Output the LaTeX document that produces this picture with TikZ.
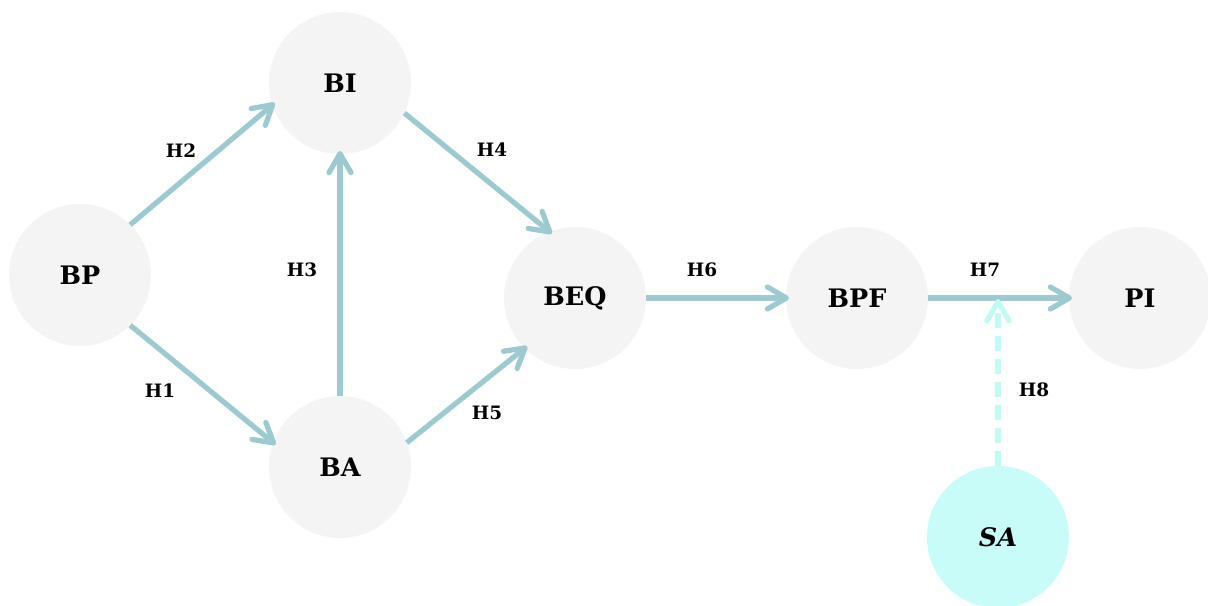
\documentclass[tikz,border=0pt]{standalone}
\usepackage{fontspec}
\setmainfont{DejaVu Serif}
\usepackage[table]{xcolor}
\usepackage{tikz}
\usetikzlibrary{arrows.meta}

\definecolor{nodegray}{HTML}{F4F4F4}
\definecolor{nodecyan}{HTML}{C7FCF8}
\definecolor{linkblue}{HTML}{9DCAD1}
\definecolor{linkcyan}{HTML}{C2FAF6}

\begin{document}
\begin{tikzpicture}[x=0.2mm, y=-0.2mm,
    construct/.style={circle, fill=nodegray, minimum size=28.4mm, inner sep=0pt, outer sep=0pt,
                      font=\fontsize{14.5}{17}\selectfont\bfseries},
    moderator/.style={construct, fill=nodecyan, font=\fontsize{14.5}{17}\selectfont\bfseries\itshape},
    path/.style={line width=1.05mm, draw=linkblue, shorten >=-0.6mm,
                 -{Straight Barb[length=3.8mm, width=4.4mm, round]}},
    modpath/.style={path, draw=linkcyan, dash pattern=on 3mm off 1.6mm},
    hyp/.style={font=\fontsize{10.5}{12}\selectfont\bfseries, inner sep=0pt}]
        \useasboundingbox  (0,0) rectangle (1208,606);

        \node [construct]  (BP)  at (80,275)   {BP};
        \node [construct]  (BI)  at (340,83)   {BI};
        \node [construct]  (BA)  at (340,467)  {BA};
        \node [construct]  (BEQ) at (575,298)  {BEQ};
        \node [construct]  (BPF) at (857,298)  {BPF};
        \node [construct]  (PI)  at (1140,298) {PI};
        \node [moderator]  (SA)  at (998,537)  {SA};
        \coordinate        (M)   at (998,302);

        \draw [path]     (BP.45)    -- (BI.198);
        \draw [path]     (BP.-45)   -- (BA.160);
        \draw [path]     (BA.north) -- (BI.south);
        \draw [path]     (BI.-25)   -- (BEQ.111);
        \draw [path]     (BA.20)    -- (BEQ.225);
        \draw [path]     (BEQ.east) -- (BPF.west);
        \draw [path]     (BPF.east) -- (PI.west);
        \draw [modpath]  (SA.north) -- (M);

        \node [hyp]  (H1) at (160,391)  {H1};
        \node [hyp]  (H2) at (181,151)  {H2};
        \node [hyp]  (H3) at (302,270)  {H3};
        \node [hyp]  (H4) at (492,150)  {H4};
        \node [hyp]  (H5) at (487,413)  {H5};
        \node [hyp]  (H6) at (702,270)  {H6};
        \node [hyp]  (H7) at (985,270)  {H7};
        \node [hyp]  (H8) at (1034,390) {H8};
      \end{tikzpicture}
\end{document}
